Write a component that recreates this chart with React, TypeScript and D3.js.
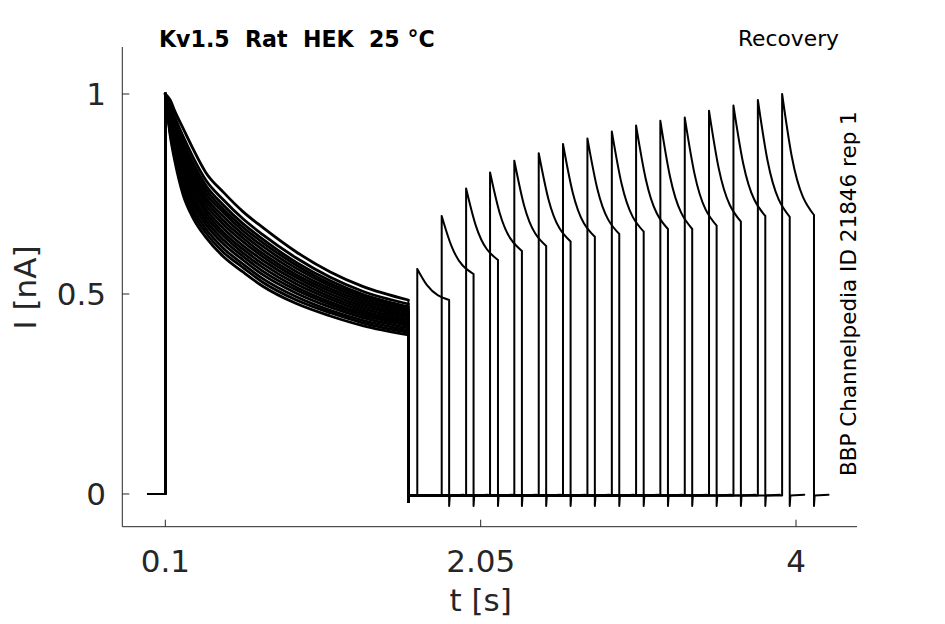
import * as d3 from "d3";

// ---- data ----
// first (conditioning) pulse, sampled decay of every sweep
const firstTimes = [0.1, 0.13, 0.16, 0.21, 0.27, 0.35, 0.46, 0.58, 0.7, 0.91, 1.12, 1.32, 1.603];
const firstLevels = [
  [1, 0.985, 0.956, 0.914, 0.864, 0.804, 0.754, 0.706, 0.667, 0.605, 0.555, 0.519, 0.485],
  [1, 0.974, 0.941, 0.894, 0.843, 0.785, 0.735, 0.688, 0.649, 0.59, 0.542, 0.507, 0.475],
  [1, 0.967, 0.931, 0.881, 0.829, 0.772, 0.722, 0.676, 0.638, 0.579, 0.533, 0.499, 0.468],
  [1, 0.962, 0.923, 0.871, 0.819, 0.762, 0.712, 0.667, 0.629, 0.572, 0.526, 0.494, 0.462],
  [1, 0.957, 0.916, 0.861, 0.809, 0.752, 0.703, 0.658, 0.62, 0.564, 0.52, 0.488, 0.457],
  [1, 0.952, 0.908, 0.851, 0.798, 0.742, 0.693, 0.649, 0.611, 0.556, 0.513, 0.482, 0.452],
  [1, 0.946, 0.901, 0.841, 0.788, 0.733, 0.683, 0.64, 0.602, 0.548, 0.507, 0.476, 0.447],
  [1, 0.941, 0.893, 0.831, 0.778, 0.723, 0.674, 0.631, 0.594, 0.541, 0.5, 0.47, 0.442],
  [1, 0.936, 0.885, 0.821, 0.767, 0.713, 0.664, 0.621, 0.585, 0.533, 0.493, 0.464, 0.436],
  [1, 0.93, 0.878, 0.811, 0.757, 0.704, 0.654, 0.612, 0.576, 0.525, 0.487, 0.458, 0.431],
  [1, 0.925, 0.87, 0.801, 0.746, 0.694, 0.645, 0.603, 0.567, 0.517, 0.48, 0.452, 0.426],
  [1, 0.92, 0.863, 0.791, 0.736, 0.684, 0.635, 0.594, 0.558, 0.51, 0.474, 0.447, 0.421],
  [1, 0.915, 0.855, 0.781, 0.726, 0.674, 0.625, 0.585, 0.549, 0.502, 0.467, 0.441, 0.415],
  [1, 0.908, 0.846, 0.77, 0.714, 0.663, 0.614, 0.575, 0.539, 0.493, 0.459, 0.434, 0.409],
  [1, 0.903, 0.839, 0.76, 0.703, 0.653, 0.604, 0.566, 0.53, 0.485, 0.453, 0.428, 0.404],
  [1, 0.897, 0.83, 0.748, 0.691, 0.642, 0.593, 0.555, 0.52, 0.476, 0.445, 0.421, 0.398],
];

// test pulses: onset time, peak, level 60 ms in, level at the end
const testStarts = [1.658, 1.809, 1.96, 2.108, 2.258, 2.409, 2.559, 2.71, 2.861, 3.011, 3.161, 3.312, 3.462, 3.613, 3.764, 3.914];
const testPeaks = [0.5625, 0.695, 0.764, 0.804, 0.833, 0.852, 0.875, 0.889, 0.906, 0.921, 0.933, 0.941, 0.958, 0.971, 0.985, 1.0];
const testMids = [0.522, 0.62, 0.671, 0.702, 0.722, 0.737, 0.754, 0.765, 0.776, 0.787, 0.793, 0.801, 0.814, 0.827, 0.833, 0.843];
const testEnds = [0.485, 0.55, 0.585, 0.6075, 0.62, 0.631, 0.643, 0.65, 0.656, 0.6625, 0.6625, 0.671, 0.681, 0.695, 0.693, 0.6975];

const xTicks = [0.1, 2.05, 4];
const xTickLabels = ["0.1", "2.05", "4"];
const yTicks = [0, 0.5, 1];
const yTickLabels = ["0", "0.5", "1"];

const W = 945;
const H = 624;
const FONT = "DejaVu Sans";
const AX = "#262626";

type P = [number, number];

export default function App() {
  const x = d3.scaleLinear().domain([-0.166, 4.377]).range([122.3, 857]);
  const y = d3.scaleLinear().domain([-0.0818, 1.1175]).range([526.7, 47]);

  const straight = d3.line<P>().x((d) => x(d[0])).y((d) => y(d[1]));
  const smooth = d3
    .line<P>()
    .x((d) => x(d[0]))
    .y((d) => y(d[1]))
    .curve(d3.curveMonotoneX);

  const testWidth = 0.197;

  // the conditioning-pulse decays (noisy in the recording, so drawn a bit heavier)
  const decays = firstLevels.map((lv) => smooth(firstTimes.map((t, j) => [t, lv[j]] as P)));

  const sweeps = firstLevels.map((lv, i) => {
    const t2 = testStarts[i];
    const end1 = lv[lv.length - 1];
    const t3 = t2 + testWidth;
    const parts = [
      straight([[-0.007, 0], [0.1, 0], [0.1, 1]]),
      straight([[1.603, end1], [1.603, -0.02], [1.607, -0.004], [t2, -0.004], [t2, testPeaks[i]]]),
      smooth([[t2, testPeaks[i]], [t2 + 0.06, testMids[i]], [t3, testEnds[i]]]),
      straight([[t3, testEnds[i]], [t3, -0.03], [t3 + 0.004, -0.004], [t3 + 0.09, -0.002]]),
    ];
    return parts.join("");
  });

  return (
    <svg
      width={W}
      height={H}
      style={{ position: "absolute", left: 0, top: 0, background: "#fff" }}
      fontFamily={FONT}
    >
      {/* traces */}
      <g fill="none" stroke="#000" strokeLinecap="round" strokeLinejoin="round">
        {decays.map((d, i) => (
          <path key={"d" + i} d={d ?? ""} strokeWidth={2.8} />
        ))}
        {sweeps.map((d, i) => (
          <path key={"s" + i} d={d} strokeWidth={2} />
        ))}
      </g>

      {/* axes */}
      <g stroke={AX} strokeWidth={1} fill="none">
        <line x1={x.range()[0]} x2={x.range()[0]} y1={y.range()[1]} y2={y.range()[0]} />
        <line x1={x.range()[0]} x2={x.range()[1]} y1={y.range()[0]} y2={y.range()[0]} />
        {yTicks.map((v) => (
          <line key={"yt" + v} x1={x.range()[0]} x2={x.range()[0] + 7} y1={y(v)} y2={y(v)} />
        ))}
        {xTicks.map((v) => (
          <line key={"xt" + v} x1={x(v)} x2={x(v)} y1={y.range()[0]} y2={y.range()[0] - 7} />
        ))}
      </g>
      <g fill={AX} fontSize={31}>
        {yTicks.map((v, i) => (
          <text key={"yl" + v} x={106} y={y(v)} dy="0.35em" textAnchor="end">
            {yTickLabels[i]}
          </text>
        ))}
        {xTicks.map((v, i) => (
          <text key={"xl" + v} x={x(v)} y={572} textAnchor="middle">
            {xTickLabels[i]}
          </text>
        ))}
        <text x={x(2.05)} y={611} textAnchor="middle">
          t [s]
        </text>
        <text transform="translate(36,287.5) rotate(-90)" textAnchor="middle">
          I [nA]
        </text>
      </g>

      {/* annotations */}
      <text x={159} y={46.5} fontSize={22.1} fontWeight="bold" fill="#000" style={{ whiteSpace: "pre" }}>
        {"Kv1.5  Rat  HEK  25 °C"}
      </text>
      <text x={839} y={46} fontSize={21.8} textAnchor="end" fill="#000">
        Recovery
      </text>
      <text transform="translate(856,476) rotate(-90)" fontSize={21.5} fill="#000">
        BBP Channelpedia ID 21846 rep 1
      </text>
    </svg>
  );
}
